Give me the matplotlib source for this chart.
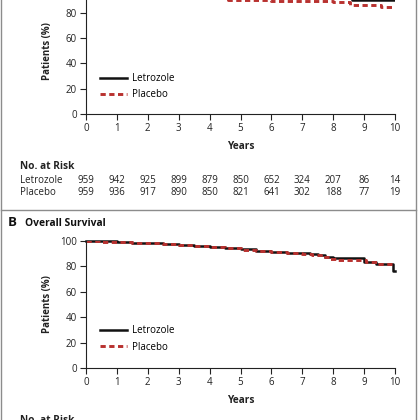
import matplotlib
matplotlib.use('Agg')
import matplotlib.pyplot as plt
from matplotlib.lines import Line2D
from matplotlib.transforms import blended_transform_factory

plt.rcParams['font.family'] = ['Open Sans', 'DejaVu Sans']

# panel A (disease-free survival, top part cut off in the crop)
dfs_years_let = [0, 1, 2, 3, 4, 5, 6, 7, 8, 8.6, 10]
dfs_let = [100, 99.3, 98.4, 97.4, 96.4, 95.4, 94.3, 93.2, 92.2, 90.5, 90.5]
dfs_years_pla = [0, 1, 2, 3, 4, 4.6, 5, 6, 7, 8, 8.55, 9.55, 10]
dfs_pla = [100, 98.5, 96.5, 94.4, 92.3, 90.4, 89.8, 89.4, 89.0, 88.7, 86.4, 84.3, 84.3]

# panel B (overall survival)
os_years_let = [0, 0.5, 1, 1.5, 2, 2.5, 3, 3.5, 4, 4.5, 5, 5.5, 6, 6.5, 7, 7.25,
                7.5, 7.75, 8.0, 9.0, 9.4, 9.93, 10]
os_let = [100, 99.7, 99.2, 98.8, 98.4, 97.9, 97.1, 96.2, 95.3, 94.4, 93.5, 92.5,
          91.4, 90.8, 90.3, 90.0, 89.0, 87.7, 86.9, 83.2, 81.6, 76.6, 76.6]
os_years_pla = [0, 0.5, 1, 1.5, 2, 2.5, 3, 3.5, 4, 4.5, 5, 5.5, 6, 6.5, 7, 7.3,
                7.6, 7.9, 8.15, 9.05, 9.45, 9.95, 10]
os_pla = [100, 99.6, 99.1, 98.7, 98.2, 97.7, 97.0, 96.1, 95.1, 94.2, 93.2, 92.5,
          91.5, 90.6, 89.8, 88.6, 87.3, 86.2, 85.1, 83.2, 81.9, 80.8, 80.8]

risk_years = list(range(11))
risk_let = [959, 942, 925, 899, 879, 850, 652, 324, 207, 86, 14]
risk_pla = [959, 936, 917, 890, 850, 821, 641, 302, 188, 77, 19]

RED = '#b8312f'
DARK = '#222222'
FS = 7

fig = plt.figure(figsize=(4.2, 4.2), dpi=100)
ax1 = fig.add_axes([86/420, 306/420, 309/420, 126.5/420])
ax2 = fig.add_axes([86/420, 52/420, 309/420, 127/420])


def style(ax):
    ax.set_xlim(0, 10)
    ax.set_ylim(0, 100)
    ax.set_xticks(range(11))
    ax.set_yticks([0, 20, 40, 60, 80, 100])
    for s in ['top', 'right']:
        ax.spines[s].set_visible(False)
    for s in ['left', 'bottom']:
        ax.spines[s].set_color(DARK)
        ax.spines[s].set_linewidth(0.8)
    ax.tick_params(direction='out', length=4, width=0.8, labelsize=FS,
                   colors=DARK, pad=2.5)
    ax.text(0.5, -0.254, 'Years', transform=ax.transAxes, ha='center',
            va='center', fontsize=FS + 0.3, fontweight='bold', color=DARK)
    ax.text(-0.126, 0.5, 'Patients (%)', transform=ax.transAxes, ha='center',
            va='center', rotation=90, fontsize=FS, fontweight='bold', color=DARK)


def curves(ax, xl, yl, xp, yp, ly):
    ax.step(xl, yl, where='post', color='#111111', lw=1.8, label='Letrozole',
            clip_on=False if ax is ax2 else True)
    ax.step(xp, yp, where='post', color=RED, lw=2.1, dashes=(1.8, 1.2),
            label='Placebo')
    ax.legend(loc='center left', bbox_to_anchor=(0.045, ly), frameon=False,
              fontsize=FS, handlelength=2.8, handletextpad=0.5,
              labelspacing=0.55, borderpad=0, borderaxespad=0)


def risk_table(ax, top):
    tr = blended_transform_factory(fig.transFigure, ax.transAxes)
    ax.text(20/420, top, 'No. at Risk', transform=tr, fontsize=FS + 0.3,
            fontweight='bold', va='center', color=DARK)
    ax.text(20/420, top - 0.107, 'Letrozole', transform=tr, fontsize=FS,
            va='center', color=DARK)
    ax.text(20/420, top - 0.202, 'Placebo', transform=tr, fontsize=FS,
            va='center', color=DARK)
    tr2 = blended_transform_factory(ax.transData, ax.transAxes)
    for yr, a, b in zip(risk_years, risk_let, risk_pla):
        ax.text(yr, top - 0.107, str(a), transform=tr2, ha='center',
                va='center', fontsize=FS, color=DARK)
        ax.text(yr, top - 0.202, str(b), transform=tr2, ha='center',
                va='center', fontsize=FS, color=DARK)


style(ax1)
style(ax2)
curves(ax1, dfs_years_let, dfs_let, dfs_years_pla, dfs_pla, 0.215)
curves(ax2, os_years_let, os_let, os_years_pla, os_pla, 0.228)
risk_table(ax1, -0.415)
risk_table(ax2, -0.413)

fig.text(8/420, 1 - 223/420, 'B', fontsize=9.5, fontweight='bold',
         va='center', color='#111111')
fig.text(25/420, 1 - 224/420, 'Overall Survival', fontsize=FS + 0.4,
         fontweight='bold', va='center', color='#111111')

# panel frame
for xs, ys in [([1/420, 1/420], [0, 1]), ([416/420, 416/420], [0, 1]),
               ([1/420, 416/420], [0.5, 0.5])]:
    fig.add_artist(Line2D(xs, ys, transform=fig.transFigure, color='#8c8c8c',
                          lw=1.0))

fig.savefig('out.png', dpi=100)
